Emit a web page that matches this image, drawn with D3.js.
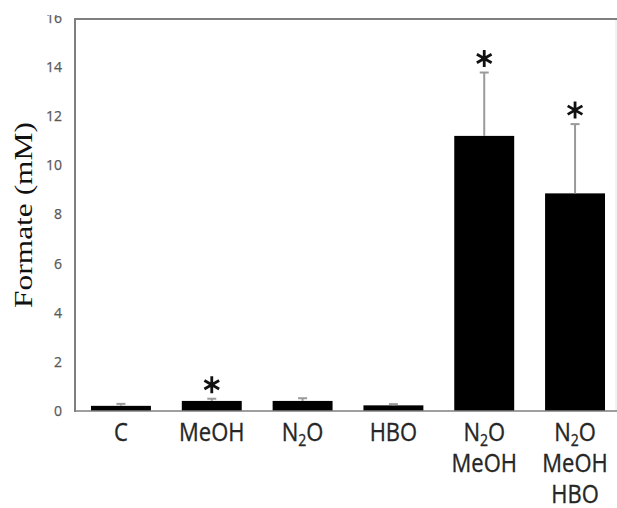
<!DOCTYPE html>
<html>
<head>
<meta charset="utf-8">
<script src="https://cdn.jsdelivr.net/npm/d3@7"></script>
<style>
  body { margin: 0; background: #fff; }
  svg { display: block; }
  .tick text { font-family: "Open Sans", sans-serif; font-size: 14px; fill: #595959; stroke: #595959; stroke-width: 0.25px; }
  .xlabel { font-family: "Open Sans", sans-serif; font-size: 22px; fill: #262626; stroke: #262626; stroke-width: 0.3px; }
  .ytitle { font-family: "Liberation Serif", "Times New Roman", serif; font-size: 25px; fill: #111; }
</style>
</head>
<body>
<svg width="617" height="508"></svg>
<script>
// each label is a list of lines; "_2" marks a subscript 2
const CATEGORIES = [
    ['C'],
    ['MeOH'],
    ['N_2O'],
    ['HBO'],
    ['N_2O', 'MeOH'],
    ['N_2O', 'MeOH', 'HBO'],
];
const MEANS  = [0.21, 0.41, 0.41, 0.23, 11.2, 8.86];
const ERRORS = [0.08, 0.09, 0.11, 0.05, 2.58, 2.82];
const SIGNIF = [false, true, false, false, true, true];
const Y_TICKS = [0, 2, 4, 6, 8, 10, 12, 14, 16];

const PARAMS = {
    width: 617,
    height: 508,
    left: 75,
    right: 616,
    top: 18,
    base: 411,
};

const svg = d3.select('svg');
const ids = CATEGORIES.map((c, i) => i);

const x = d3.scaleBand()
    .domain(ids)
    .range([PARAMS.left, 621])
    .paddingInner(0.34)
    .paddingOuter(0.176);

const y = d3.scaleLinear()
    .domain([0, 16])
    .range([PARAMS.base, PARAMS.top]);

// y axis labels (no tick marks)
const yAxis = svg.append('g')
    .attr('transform', `translate(${PARAMS.left},0)`)
    .call(d3.axisLeft(y).tickValues(Y_TICKS).tickSize(0).tickPadding(13));
yAxis.select('.domain').remove();

// frame
svg.append('line')
    .attr('x1', PARAMS.right).attr('x2', PARAMS.right)
    .attr('y1', y(16) + 1).attr('y2', PARAMS.base)
    .attr('stroke', '#e6e6e6').attr('stroke-width', 1);
svg.append('line')
    .attr('x1', PARAMS.left).attr('x2', PARAMS.width)
    .attr('y1', y(16) + 1).attr('y2', y(16) + 1)
    .attr('stroke', '#7f7f7f').attr('stroke-width', 2);
svg.append('line')
    .attr('x1', PARAMS.left).attr('x2', PARAMS.left)
    .attr('y1', y(16)).attr('y2', PARAMS.base + 1)
    .attr('stroke', '#7f7f7f').attr('stroke-width', 2);

// bars
svg.selectAll('.bar')
    .data(ids)
    .enter()
    .append('rect')
    .classed('bar', true)
    .attr('x', i => x(i))
    .attr('width', x.bandwidth())
    .attr('y', i => y(MEANS[i]))
    .attr('height', i => y(0) - y(MEANS[i]))
    .attr('fill', '#000');

// error bars (upper half only)
const err = svg.selectAll('.err')
    .data(ids)
    .enter()
    .append('g')
    .classed('err', true)
    .attr('stroke', '#9a9a9a')
    .attr('stroke-width', 2);
err.append('line')
    .attr('x1', i => x(i) + x.bandwidth() / 2)
    .attr('x2', i => x(i) + x.bandwidth() / 2)
    .attr('y1', i => y(MEANS[i]))
    .attr('y2', i => y(MEANS[i] + ERRORS[i]));
err.append('line')
    .attr('x1', i => x(i) + x.bandwidth() / 2 - 4.5)
    .attr('x2', i => x(i) + x.bandwidth() / 2 + 4.5)
    .attr('y1', i => y(MEANS[i] + ERRORS[i]))
    .attr('y2', i => y(MEANS[i] + ERRORS[i]));

// baseline
svg.append('line')
    .attr('x1', PARAMS.left).attr('x2', PARAMS.width)
    .attr('y1', PARAMS.base).attr('y2', PARAMS.base)
    .attr('stroke', '#7f7f7f').attr('stroke-width', 1.5);

// significance asterisks
const star = r => [90, 30, 150].map(a => {
    const c = Math.cos(a * Math.PI / 180) * r, s = Math.sin(a * Math.PI / 180) * r;
    return `M${-c},${-s}L${c},${s}`;
}).join('');
svg.selectAll('.star')
    .data(ids.filter(i => SIGNIF[i]))
    .enter()
    .append('path')
    .classed('star', true)
    .attr('transform', i => `translate(${x(i) + x.bandwidth() / 2},${y(MEANS[i] + ERRORS[i]) - 14})`)
    .attr('d', star(8.5))
    .attr('stroke', '#111')
    .attr('stroke-width', 2.8);

// category labels
const labels = svg.selectAll('.xlabel')
    .data(ids)
    .enter()
    .append('text')
    .classed('xlabel', true)
    .attr('text-anchor', 'middle')
    .attr('transform', i => `translate(${x(i) + x.bandwidth() / 2},441) scale(1,1.15)`);
labels.each(function (i) {
    const t = d3.select(this);
    CATEGORIES[i].forEach((line, k) => {
        const parts = line.split('_2');
        t.append('tspan').attr('x', 0).attr('y', k * 27).text(parts[0]);
        if (parts.length > 1) {
            t.append('tspan').attr('font-size', 14).attr('dy', 4).text('2');
            t.append('tspan').attr('dy', -4).text(parts[1]);
        }
    });
});

// y title
svg.append('text')
    .classed('ytitle', true)
    .attr('text-anchor', 'middle')
    .attr('transform', 'translate(32,215) rotate(-90)')
    .attr('textLength', 186)
    .attr('lengthAdjust', 'spacingAndGlyphs')
    .text('Formate (mM)');

// the source image is cropped just above the top tick label
svg.append('rect')
    .attr('x', 0).attr('y', 0)
    .attr('width', PARAMS.width).attr('height', 15)
    .attr('fill', '#fff');
</script>
</body>
</html>
